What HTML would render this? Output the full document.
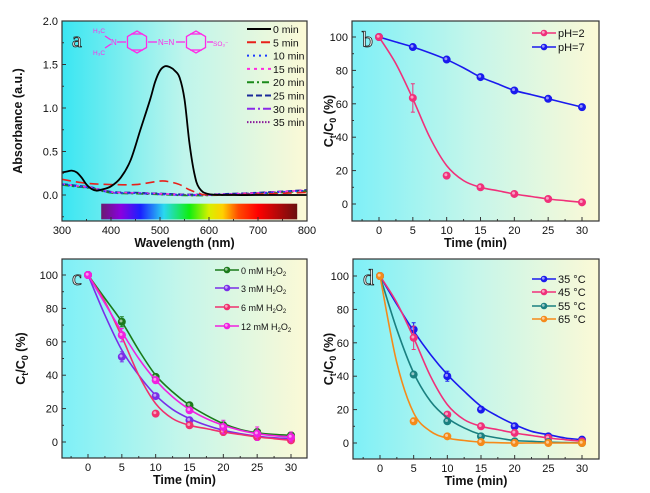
<!DOCTYPE html>
<html><head><meta charset="utf-8"><style>
html,body{margin:0;padding:0;background:#fff;}
svg{display:block;font-family:"Liberation Sans",sans-serif;}
</style></head><body>
<svg id="fig" width="650" height="493" viewBox="0 0 650 493" xmlns="http://www.w3.org/2000/svg">
<defs>
<linearGradient id="bgA" x1="0" x2="1" y1="0" y2="0"><stop offset="0" stop-color="#3ae6f2"/><stop offset="0.5" stop-color="#bff5ec"/><stop offset="1" stop-color="#fcf9d6"/></linearGradient>
<linearGradient id="bgB" x1="0" x2="1" y1="0" y2="0"><stop offset="0" stop-color="#7ef0f7"/><stop offset="0.5" stop-color="#c6f6ea"/><stop offset="1" stop-color="#fcf9d6"/></linearGradient>
<linearGradient id="spec" x1="0" x2="1" y1="0" y2="0">
<stop offset="0" stop-color="#6a1a70"/><stop offset="0.1" stop-color="#8a00e0"/><stop offset="0.2" stop-color="#1a20ff"/><stop offset="0.32" stop-color="#2ad8f0"/><stop offset="0.45" stop-color="#10ee10"/><stop offset="0.55" stop-color="#d8f000"/><stop offset="0.62" stop-color="#ffd000"/><stop offset="0.7" stop-color="#ff4a00"/><stop offset="0.8" stop-color="#ff0000"/><stop offset="1" stop-color="#6a1010"/></linearGradient>
</defs>
</svg>
<script>
// ---------- data ----------
const specWl0 = [300,310,320,330,340,350,360,370,380,400,420,440,460,480,490,500,510,520,530,540,550,560,570,580,600,650,700,800];
const specAbs0 = [0.26,0.27,0.28,0.26,0.2,0.12,0.07,0.05,0.06,0.1,0.2,0.4,0.75,1.1,1.3,1.43,1.48,1.47,1.43,1.35,1.1,0.6,0.25,0.08,0.01,0.0,0.0,0.0];
const specWl5 = [300,330,360,400,450,500,520,540,560,580,600,700,800];
const specAbs5 = [0.18,0.15,0.13,0.12,0.12,0.16,0.15,0.12,0.06,0.02,0.0,0.01,0.03];
const specWlRest = [300,330,360,400,450,500,550,600,700,800];
const specAbsRest = [0.12,0.1,0.08,0.03,0.02,0.01,0.0,0.0,0.02,0.05];
const spectraLabels = ["0 min","5 min","10 min","15 min","20 min","25 min","30 min","35 min"];

const times = [0,5,10,15,20,25,30];
const fitTimes = [0,2.5,5,7.5,10,12.5,15,17.5,20,22.5,25,27.5,30];

const bPH2 = [100,63.5,17,10,6,3,1];
const bPH2Fit = [100,84,63,40,23,14,10,8,6,4.5,3,2,1];
const bPH7 = [100,94,86.5,76,68,63,58];
const bPH7Fit = [100,97,94,90.5,86.5,81.5,76,72,68,65.5,63,60.5,58];

const c0 = [100,72,39,22,10,6,4];
const c0Fit = [100,86,72,55,40,30,22,16,11,7.5,5.5,4.5,4];
const c3 = [100,51,27.5,13,7,3,2];
const c3Fit = [100,76,55,40,28,19.5,14,10,7,5,3.5,2.5,2];
const c6 = [100,64,17,10,6,3,1];
const c6Fit = [100,84,63,40,23,14,10,8,6,4.5,3,2,1];
const c12 = [100,64,37,19,9,5,3];
const c12Fit = [100,83,66,50,37,27,19.5,14,10,7,5,3.8,3];

const d35 = [100,68,40,20,10,4,2];
const d35Fit = [100,83,67,53,41,31,22,16,11,7,5,3,2];
const d45 = [100,63,17,10,6,3,1];
const d45Fit = [100,84,63,40,23,14,10,8,6,4.5,3,2,1];
const d55 = [100,41,13,4,1,0.5,0];
const d55Fit = [100,68,42,25,15,9,5,3,1.5,1,0.5,0.3,0];
const d65 = [100,13,4,0.5,0,0,0];
const d65Fit = [100,48,18,7,3,1.5,0.5,0.2,0,0,0,0,0];

// ---------- helpers ----------
const NS="http://www.w3.org/2000/svg";
const svg=document.getElementById('fig');
function el(tag,attrs,parent){const e=document.createElementNS(NS,tag);for(const k in attrs)e.setAttribute(k,attrs[k]);(parent||svg).appendChild(e);return e;}
function lin(d0,d1,r0,r1){return v=>r0+(v-d0)*(r1-r0)/(d1-d0);}
function smoothPath(pts){
  let d=`M${pts[0][0]},${pts[0][1]}`;
  for(let i=0;i<pts.length-1;i++){
    const p0=pts[i-1]||pts[i],p1=pts[i],p2=pts[i+1],p3=pts[i+2]||p2;
    const c1x=p1[0]+(p2[0]-p0[0])/6,c1y=p1[1]+(p2[1]-p0[1])/6;
    const c2x=p2[0]-(p3[0]-p1[0])/6,c2y=p2[1]-(p3[1]-p1[1])/6;
    d+=` C${c1x},${c1y} ${c2x},${c2y} ${p2[0]},${p2[1]}`;
  }
  return d;
}
function frame(p){
  const g=el('g',{});
  
  
  const bg=el('rect',{x:p.x0,y:p.y0,width:p.x1-p.x0,height:p.y1-p.y0,fill:p.bg},g);
  
  
  return g;
}
function axes(p,g){
  const fr=el('rect',{x:p.x0,y:p.y0,width:p.x1-p.x0,height:p.y1-p.y0,fill:'none',stroke:'#333','stroke-width':1.2},g);
  
  
  p.xticks.forEach((v,i)=>{
    const x=p.sx(v);
    el('line',{x1:x,x2:x,y1:p.y1,y2:p.y1-4,stroke:'#333'},g);
    const t=el('text',{x:x,y:p.y1+13,'font-size':11,'text-anchor':'middle',fill:'#111'},g);
    t.textContent=p.xlabels[i];
    
    
  });
  (p.xminor||[]).forEach(v=>{const x=p.sx(v);el('line',{x1:x,x2:x,y1:p.y1,y2:p.y1-2,stroke:'#333'},g);});
  p.yticks.forEach((v,i)=>{
    const y=p.sy(v);
    el('line',{x1:p.x0,x2:p.x0+4,y1:y,y2:y,stroke:'#333'},g);
    const t=el('text',{x:p.x0-4,y:y+4,'font-size':11,'text-anchor':'end',fill:'#111'},g);
    t.textContent=p.ylabels[i];
    
    
  });
  (p.yminor||[]).forEach(v=>{const y=p.sy(v);el('line',{x1:p.x0,x2:p.x0+2,y1:y,y2:y,stroke:'#333'},g);});
  const xt=el('text',{x:(p.x0+p.x1)/2,y:p.y1+26,'font-size':12.5,'font-weight':'bold','text-anchor':'middle',fill:'#111'},g);
  xt.textContent=p.xtitle;
  
  
  const yt=el('text',{x:0,y:0,'font-size':12.5,'font-weight':'bold','text-anchor':'middle',fill:'#111',transform:`translate(${p.ytx},${(p.y0+p.y1)/2}) rotate(-90)`},g);
  yt.innerHTML=p.ytitle;
  
  
  const lt=el('text',{x:p.x0+10,y:p.y0+26,'font-size':22,'font-family':'Liberation Serif, serif',fill:'#fff',stroke:'#222','stroke-width':0.8},g);
  lt.textContent=p.letter;
  
  
}
function kinSeries(p,g,name,color,xs,ys,fx,fy,err){
  const sg=el('g',{},g);
  
  
  const fpts=fx.map((t,i)=>[p.sx(t),p.sy(fy[i])]);
  const path=el('path',{d:smoothPath(fpts),fill:'none',stroke:color,'stroke-width':1.6},sg);
  
  
  xs.forEach((t,i)=>{
    const x=p.sx(t),y=p.sy(ys[i]);
    if(err&&err[i]){
      el('line',{x1:x,x2:x,y1:p.sy(ys[i]+err[i]),y2:p.sy(ys[i]-err[i]),stroke:color,'stroke-width':1},sg);
      el('line',{x1:x-2,x2:x+2,y1:p.sy(ys[i]+err[i]),y2:p.sy(ys[i]+err[i]),stroke:color},sg);
      el('line',{x1:x-2,x2:x+2,y1:p.sy(ys[i]-err[i]),y2:p.sy(ys[i]-err[i]),stroke:color},sg);
    }
    const c=el('circle',{cx:x,cy:y,r:3.6,fill:color,stroke:color,'stroke-width':0.8},sg);
    
    
    el('circle',{cx:x-0.8,cy:y-0.8,r:1.5,fill:'#fff','fill-opacity':0.55},sg);
  });
}
function legendEntry(g,x,y,color,label,dash,marker,fs){
  const lg=el('g',{},g);
  
  
  el('line',{x1:x,x2:x+24,y1:y,y2:y,stroke:color,'stroke-width':marker?1.6:2,'stroke-dasharray':dash||'none'},lg);
  if(marker){el('circle',{cx:x+12,cy:y,r:3.3,fill:color},lg);el('circle',{cx:x+11.3,cy:y-0.7,r:1.4,fill:'#fff','fill-opacity':0.55},lg);}
  const t=el('text',{x:x+26,y:y+4,'font-size':fs||(marker==='small'?9:11),fill:'#111'},lg);
  t.innerHTML=label;
}

// ---------- panel a ----------
(function(){
  const p={name:'absorbance',x0:62,x1:307,y0:21,y1:221,bg:'url(#bgA)',letter:'a',
    sx:lin(300,800,62,307),sy:lin(0,2,195,21),
    xticks:[300,400,500,600,700,800],xlabels:['300','400','500','600','700','800'],xminor:[350,450,550,650,750],
    yticks:[0,0.5,1,1.5,2],ylabels:['0.0','0.5','1.0','1.5','2.0'],yminor:[0.25,0.75,1.25,1.75,-0.25],
    xtitle:'Wavelength (nm)',ytitle:'Absorbance (a.u.)',ytx:22};
  const g=frame(p);
  const sb=el('rect',{x:p.sx(380),y:p.sy(-0.1),width:p.sx(780)-p.sx(380),height:p.sy(-0.28)-p.sy(-0.1),fill:'url(#spec)'},g);
  
  
  const colors=['#000','#e8201a','#1a3aff','#ff2ae0','#1a8a1a','#1a2a9a','#8a2ae8','#8a1a9a'];
  const dashes=['none','9,5','2,4','3,4','7,3,2,3','6,3','8,3,2,3','1.5,1.5'];
  const offs=[0,0,0,0.005,-0.005,0.008,-0.003,0.003];
  for(let k=colors.length-1;k>=0;k--){
    let wl=specWlRest,ab=specAbsRest;
    if(k===0){wl=specWl0;ab=specAbs0;} else if(k===1){wl=specWl5;ab=specAbs5;}
    const pts=wl.map((w,i)=>[p.sx(w),p.sy(ab[i]+(k>1?offs[k]:0))]);
    const path=el('path',{d:smoothPath(pts),fill:'none',stroke:colors[k],'stroke-width':k===0?1.8:1.6,'stroke-dasharray':dashes[k]},g);
    
    
  }
  axes(p,g);
  spectraLabels.forEach((l,i)=>legendEntry(g,247,29+i*13.3,colors[i],l,dashes[i],false,10.5));
  // molecule
  const m=el('g',{stroke:'#ff2ae8',fill:'none','stroke-width':1.3},g);
  
  
  function hex(cx,cy,r){let d='';for(let i=0;i<6;i++){const a=Math.PI/6+i*Math.PI/3;d+=(i?'L':'M')+(cx+r*Math.cos(a))+','+(cy+r*Math.sin(a));}return d+'Z';}
  el('path',{d:hex(137,42,11)},m);el('path',{d:hex(196,42,11)},m);
  el('line',{x1:131,x2:143,y1:34,y2:34},m);el('line',{x1:131,x2:143,y1:50,y2:50},m);
  el('line',{x1:190,x2:202,y1:34,y2:34},m);el('line',{x1:190,x2:202,y1:50,y2:50},m);
  el('line',{x1:117,x2:126,y1:42,y2:42},m);el('line',{x1:148,x2:157,y1:42,y2:42},m);
  el('line',{x1:176,x2:185,y1:42,y2:42},m);el('line',{x1:207,x2:213,y1:42,y2:42},m);
  el('line',{x1:105,x2:111,y1:36,y2:40},m);el('line',{x1:105,x2:111,y1:48,y2:44},m);
  const mt=[[93,33,'H₃C'],[111,45,'N'],[93,55,'H₃C'],[158,45,'N=N'],[213,46,'SO₃⁻']];
  mt.forEach(a=>{const t=el('text',{x:a[0],y:a[1],'font-size':a[2]==='N'||a[2]==='N=N'?8:6.5,fill:'#ff2ae8',stroke:'none'},m);t.textContent=a[2];});
})();

// ---------- panel b ----------
const kinY=[0,20,40,60,80,100];
const kinYL=['0','20','40','60','80','100'];
const kinX=[0,5,10,15,20,25,30];
const kinXL=['0','5','10','15','20','25','30'];
const ytitleCt='C<tspan font-size="9" dy="3">t</tspan><tspan dy="-3">/C</tspan><tspan font-size="9" dy="3">0</tspan><tspan dy="-3"> (%)</tspan>';
(function(){
  const p={name:'ph-effect',x0:352,x1:599,y0:21,y1:221,bg:'url(#bgB)',letter:'b',
    sx:lin(0,30,379,582),sy:lin(0,100,204,37),xticks:kinX,xlabels:kinXL,xminor:[-2.5,2.5,7.5,12.5,17.5,22.5,27.5],
    yticks:kinY,ylabels:kinYL,yminor:[10,30,50,70,90],xtitle:'Time (min)',ytitle:ytitleCt,ytx:333};
  const g=frame(p);
  kinSeries(p,g,'series-ph7','#1a1aee',times,bPH7,fitTimes,bPH7Fit);
  kinSeries(p,g,'series-ph2','#f0307a',times,bPH2,fitTimes,bPH2Fit,[0,8.5,0,0,1.5,0,0]);
  axes(p,g);
  legendEntry(g,532,33,'#f0307a','pH=2',null,true);
  legendEntry(g,532,47,'#1a1aee','pH=7',null,true);
})();

// ---------- panel c ----------
(function(){
  const p={name:'h2o2-effect',x0:62,x1:307,y0:259,y1:458,bg:'url(#bgB)',letter:'c',
    sx:lin(0,30,88,291),sy:lin(0,100,442,275),xticks:kinX,xlabels:kinXL,xminor:[-2.5,2.5,7.5,12.5,17.5,22.5,27.5],
    yticks:kinY,ylabels:kinYL,yminor:[10,30,50,70,90],xtitle:'Time (min)',ytitle:ytitleCt,ytx:25};
  const g=frame(p);
  kinSeries(p,g,'series-0mM','#1a7a1a',times,c0,fitTimes,c0Fit,[0,3,0,0,2,0,2]);
  kinSeries(p,g,'series-3mM','#7a2ee8',times,c3,fitTimes,c3Fit,[0,3,0,0,0,0,0]);
  kinSeries(p,g,'series-6mM','#f0306e',times,c6,fitTimes,c6Fit,[0,0,0,0,2,0,0]);
  kinSeries(p,g,'series-12mM','#f020e0',times,c12,fitTimes,c12Fit,[0,4,2,0,4,4,3]);
  axes(p,g);
  const h='mM H<tspan font-size="6" dy="2">2</tspan><tspan dy="-2">O</tspan><tspan font-size="6" dy="2">2</tspan>';
  legendEntry(g,215,270,'#1a7a1a','0 '+h,null,'small');
  legendEntry(g,215,288,'#7a2ee8','3 '+h,null,'small');
  legendEntry(g,215,307,'#f0306e','6 '+h,null,'small');
  legendEntry(g,215,326,'#f020e0','12 '+h,null,'small');
})();

// ---------- panel d ----------
(function(){
  const p={name:'temperature-effect',x0:353,x1:599,y0:259,y1:459,bg:'url(#bgB)',letter:'d',
    sx:lin(0,30,380,582),sy:lin(0,100,443,276),xticks:kinX,xlabels:kinXL,xminor:[-2.5,2.5,7.5,12.5,17.5,22.5,27.5],
    yticks:kinY,ylabels:kinYL,yminor:[10,30,50,70,90],xtitle:'Time (min)',ytitle:ytitleCt,ytx:333};
  const g=frame(p);
  kinSeries(p,g,'series-35C','#1a1aee',times,d35,fitTimes,d35Fit,[0,4,3,0,1.5,1.5,0]);
  kinSeries(p,g,'series-45C','#f0307a',times,d45,fitTimes,d45Fit,[0,7,0,0,1.5,0,0]);
  kinSeries(p,g,'series-55C','#1a8080',times,d55,fitTimes,d55Fit);
  kinSeries(p,g,'series-65C','#f58a1a',times,d65,fitTimes,d65Fit,[0,2,1.5,0,0,0,0]);
  axes(p,g);
  legendEntry(g,532,279,'#1a1aee','35 °C',null,true);
  legendEntry(g,532,292,'#f0307a','45 °C',null,true);
  legendEntry(g,532,306,'#1a8080','55 °C',null,true);
  legendEntry(g,532,319,'#f58a1a','65 °C',null,true);
})();
</script>
</body></html>
